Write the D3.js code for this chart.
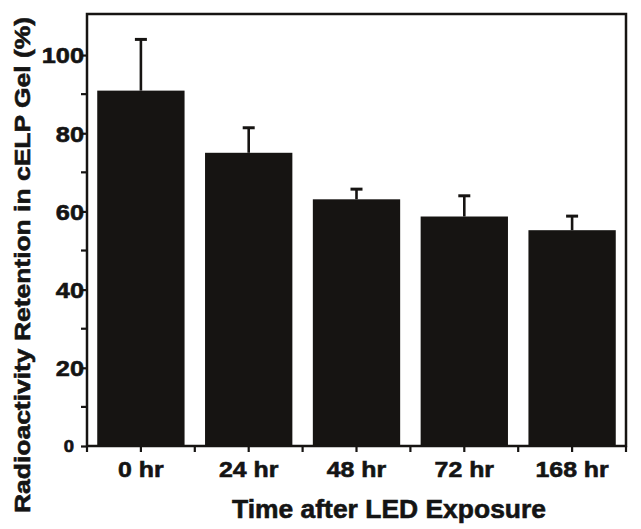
<!DOCTYPE html>
<html>
<head>
<meta charset="utf-8">
<script src="https://cdn.jsdelivr.net/npm/d3@7"></script>
<style>
  html, body { margin: 0; padding: 0; background: #ffffff; }
  svg { display: block; }
  text { font-family: Arial, "Liberation Sans", Helvetica, sans-serif; font-weight: bold; fill: #141414; stroke: #141414; stroke-width: 0.6px; }
</style>
</head>
<body>
<svg id="chart" width="641" height="529"></svg>
<script>
const categories = ["0 hr", "24 hr", "48 hr", "72 hr", "168 hr"];
const means = [90.9, 75.0, 63.1, 58.7, 55.2];
const errors = [13.1, 6.4, 2.6, 5.3, 3.6];
const yMajorTicks = [0, 20, 40, 60, 80, 100];
const yMinorTicks = [10, 30, 50, 70, 90];
const xTitle = "Time after LED Exposure";
const yTitle = "Radioactivity Retention in cELP Gel (%)";

const svg = d3.select("#chart");
const pLeft = 87, pRight = 626, pTop = 14, pBottom = 446;
const ink = "#161412";

function stretch(sel, f) {
  sel.each(function () {
    const w = this.getComputedTextLength();
    d3.select(this).attr("textLength", w * f).attr("lengthAdjust", "spacingAndGlyphs");
  });
}

const x = d3.scaleBand().domain(categories).range([pLeft, pRight]).paddingInner(0.19).paddingOuter(0.095);
const y = d3.scaleLinear().domain([0, 110.5]).range([pBottom, pTop]);

// bars
svg.append("g").selectAll("rect").data(categories).join("rect")
  .attr("x", d => x(d))
  .attr("width", x.bandwidth())
  .attr("y", (d, i) => y(means[i]))
  .attr("height", (d, i) => y(0) - y(means[i]))
  .attr("fill", ink);

// error bars (upper only)
const eb = svg.append("g").attr("stroke", ink);
eb.selectAll("line.v").data(categories).join("line").attr("class", "v")
  .attr("x1", d => x(d) + x.bandwidth() / 2).attr("x2", d => x(d) + x.bandwidth() / 2)
  .attr("y1", (d, i) => y(means[i])).attr("y2", (d, i) => y(means[i] + errors[i]))
  .attr("stroke-width", 2.6);
eb.selectAll("line.c").data(categories).join("line").attr("class", "c")
  .attr("x1", d => x(d) + x.bandwidth() / 2 - 6).attr("x2", d => x(d) + x.bandwidth() / 2 + 6)
  .attr("y1", (d, i) => y(means[i] + errors[i])).attr("y2", (d, i) => y(means[i] + errors[i]))
  .attr("stroke-width", 3);

// y axis
const yAxis = svg.append("g").attr("transform", `translate(${pLeft},0)`)
  .call(d3.axisLeft(y).tickValues(yMajorTicks).tickSize(6).tickSizeOuter(0).tickPadding(-3).tickFormat(d3.format("d")));
yAxis.select(".domain").remove();
yAxis.selectAll(".tick line").attr("stroke", ink).attr("stroke-width", 2.2);
yAxis.selectAll(".tick text").style("font-size", "22px").attr("dy", "0.36em");
yAxis.selectAll(".tick text").filter(d => d === 0).style("font-size", "16px").attr("x", -13);
stretch(yAxis.selectAll(".tick text"), 1.15);
svg.append("g").selectAll("line").data(yMinorTicks).join("line")
  .attr("x1", pLeft - 6).attr("x2", pLeft).attr("y1", d => y(d)).attr("y2", d => y(d))
  .attr("stroke", ink).attr("stroke-width", 2.2);

// x axis
const xAxis = svg.append("g").attr("transform", `translate(0,${pBottom})`)
  .call(d3.axisBottom(x).tickSize(6).tickSizeOuter(0).tickPadding(9));
xAxis.select(".domain").remove();
xAxis.selectAll(".tick line").attr("stroke", ink).attr("stroke-width", 2.2);
xAxis.selectAll(".tick text").style("font-size", "22px");
stretch(xAxis.selectAll(".tick text"), 1.13);
const boundaries = [pLeft].concat(categories.map(c => x(c) + x.bandwidth() + x.step() * x.paddingInner() / 2));
boundaries[boundaries.length - 1] = pRight;
svg.append("g").selectAll("line").data(boundaries).join("line")
  .attr("x1", d => d).attr("x2", d => d).attr("y1", pBottom).attr("y2", pBottom + 6)
  .attr("stroke", ink).attr("stroke-width", 2.2);

// frame
svg.append("rect").attr("x", pLeft).attr("y", pTop).attr("width", pRight - pLeft).attr("height", pBottom - pTop)
  .attr("fill", "none").attr("stroke", ink).attr("stroke-width", 2.5);

// titles
svg.append("text").attr("x", 389).attr("y", 518).attr("text-anchor", "middle")
  .style("font-size", "26px").attr("textLength", 314).attr("lengthAdjust", "spacingAndGlyphs").text(xTitle);
svg.append("text").attr("transform", "translate(30,265) rotate(-90)").attr("text-anchor", "middle")
  .style("font-size", "22px").attr("textLength", 496).attr("lengthAdjust", "spacingAndGlyphs").text(yTitle);
</script>
</body>
</html>
